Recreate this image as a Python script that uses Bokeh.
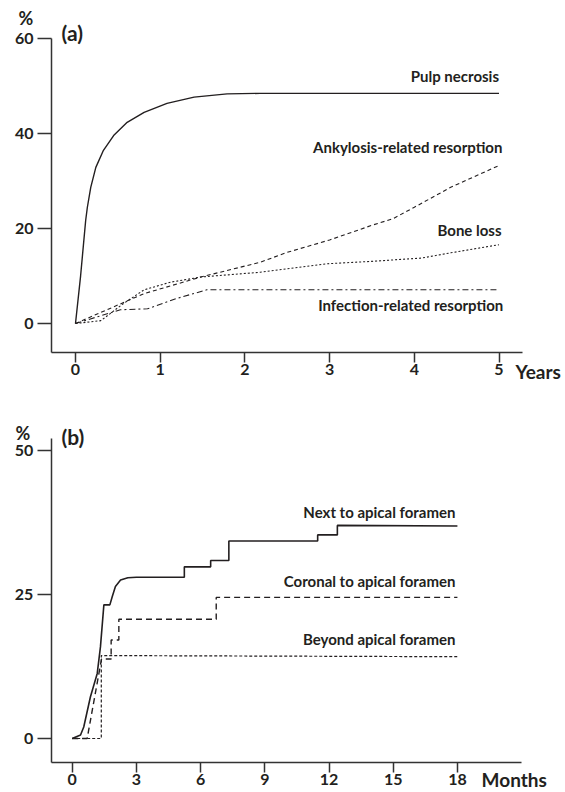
from bokeh.plotting import figure
from bokeh.layouts import column
from bokeh.models import Label, Range1d, FixedTicker
from bokeh.embed import file_html
from bokeh.resources import INLINE

# ---------------- data: panel (a) ----------------
years_ticks = [0, 1, 2, 3, 4, 5]
pct_ticks_a = [0, 20, 40, 60]

pulp_years = [0, 0.06, 0.12, 0.14, 0.18, 0.24, 0.33, 0.45, 0.61, 0.81, 1.08, 1.40, 1.79, 2.18, 5.0]
pulp_pct = [0, 10.0, 21.7, 24.5, 28.7, 32.9, 36.5, 39.6, 42.4, 44.5, 46.4, 47.7, 48.4, 48.5, 48.5]

ank_years = [0, 0.5, 0.81, 1.48, 2.18, 2.5, 3.0, 3.5, 3.75, 4.0, 4.43, 5.0]
ank_pct = [0, 3.9, 6.3, 9.8, 12.9, 15.0, 17.6, 20.7, 22.1, 24.5, 28.7, 33.3]

bone_years = [0, 0.30, 0.55, 0.81, 1.12, 1.48, 2.18, 2.98, 3.5, 4.09, 4.43, 5.0]
bone_pct = [0, 0.6, 4.0, 7.1, 8.7, 9.8, 10.8, 12.6, 13.1, 13.8, 14.9, 16.6]

inf_years = [0, 0.53, 0.85, 1.2, 1.55, 5.0]
inf_pct = [0, 2.9, 3.1, 5.3, 7.1, 7.1]

labels_a = ["Pulp necrosis", "Ankylosis-related resorption", "Bone loss", "Infection-related resorption"]

# ---------------- data: panel (b) ----------------
months_ticks = [0, 3, 6, 9, 12, 15, 18]
pct_ticks_b = [0, 25, 50]

next_months = [0, 0.39, 0.54, 0.85, 1.17, 1.32, 1.48, 1.76, 1.87, 2.02, 2.26, 2.6, 3.0,
               5.24, 5.24, 6.47, 6.47, 7.32, 7.32, 11.47, 11.47, 12.39, 12.39, 18.0]
next_pct = [0, 0.6, 2.0, 7.2, 11.3, 15.9, 23.2, 23.2, 24.6, 26.4, 27.5, 27.9, 28.0,
            28.0, 29.8, 29.8, 30.9, 30.9, 34.3, 34.3, 35.35, 35.35, 37.0, 36.9]

coronal_months = [0, 0.70, 1.37, 1.82, 1.82, 2.18, 2.18, 6.73, 6.73, 18.0]
coronal_pct = [0, 0, 13.8, 13.8, 17.1, 17.1, 20.7, 20.7, 24.5, 24.5]

beyond_months = [0, 1.36, 1.36, 18.0]
beyond_pct = [0, 0, 14.4, 14.2]

labels_b = ["Next to apical foramen", "Coronal to apical foramen", "Beyond apical foramen"]

# ---------------- styling ----------------
INK = "#231f20"
AXC = "#333333"
FONT = "Lato"


def style_axes(p, xt, yt, x_at, y_at, xb, yb):
    p.grid.visible = False
    p.outline_line_color = None
    p.xaxis.ticker = FixedTicker(ticks=xt)
    p.yaxis.ticker = FixedTicker(ticks=yt)
    p.xaxis.fixed_location = x_at
    p.yaxis.fixed_location = y_at
    p.xaxis.bounds = xb
    p.yaxis.bounds = yb
    for ax in (p.xaxis[0], p.yaxis[0]):
        ax.axis_line_color = AXC
        ax.axis_line_width = 1.5
        ax.major_tick_line_color = AXC
        ax.major_tick_line_width = 1.5
        ax.major_tick_in = 0
        ax.minor_tick_in = 0
        ax.minor_tick_out = 0
        ax.major_label_text_font = FONT
        ax.major_label_text_font_style = "bold"
        ax.major_label_text_font_size = "16px"
        ax.major_label_text_color = INK
    p.xaxis.major_tick_out = 10
    p.xaxis.major_label_standoff = 2
    p.yaxis.major_tick_out = 14
    p.yaxis.major_label_standoff = 4


def add_label(p, x, y, txt, size, align="right"):
    p.add_layout(Label(x=x, y=y, text=txt, text_font=FONT, text_font_style="bold",
                       text_font_size=size, text_color=INK, text_align=align,
                       text_baseline="middle"))


# ---------------- panel (a) ----------------
p1 = figure(width=565, height=392, x_range=Range1d(-0.8855, 5.785), y_range=Range1d(-14.54, 68.07),
            output_backend="svg", toolbar_location=None, min_border=0,
            min_border_left=0, min_border_right=0, min_border_top=0, min_border_bottom=0)
style_axes(p1, years_ticks, pct_ticks_a, -6.05, -0.2834, (-0.2834, 5.274), (-6.05, 60))

p1.line(pulp_years, pulp_pct, line_color=INK, line_width=1.4)
p1.line(ank_years, ank_pct, line_color=INK, line_width=1.1, line_dash="4 3")
p1.line(bone_years, bone_pct, line_color=INK, line_width=1.1, line_dash="2 2")
p1.line(inf_years, inf_pct, line_color=INK, line_width=1.1, line_dash="6 3 2 3")

add_label(p1, 5.0, 52.1, labels_a[0], "15px")
add_label(p1, 5.04, 37.3, labels_a[1], "15px")
add_label(p1, 5.03, 19.6, labels_a[2], "15px")
add_label(p1, 5.05, 3.8, labels_a[3], "15px")

add_label(p1, -0.587, 64.4, "%", "18px", "center")
add_label(p1, -0.165, 61.3, "(a)", "21px", "left")
add_label(p1, 5.195, -10.1, "Years", "19px", "left")

# ---------------- panel (b) ----------------
p2 = figure(width=565, height=400, x_range=Range1d(-3.350, 23.05), y_range=Range1d(-9.375, 60.07),
            output_backend="svg", toolbar_location=None, min_border=0,
            min_border_left=0, min_border_right=0, min_border_top=0, min_border_bottom=0)
style_axes(p2, months_ticks, pct_ticks_b, -4.11, -0.981, (-0.981, 21.0), (-4.11, 52.03))

p2.line(next_months, next_pct, line_color=INK, line_width=1.6)
p2.line(coronal_months, coronal_pct, line_color=INK, line_width=1.4, line_dash="6 4")
p2.line(beyond_months, beyond_pct, line_color=INK, line_width=1.2, line_dash="3 2")

add_label(p2, 17.91, 39.4, labels_b[0], "15px")
add_label(p2, 17.91, 27.4, labels_b[1], "15px")
add_label(p2, 17.91, 17.3, labels_b[2], "15px")

add_label(p2, -2.30, 53.0, "%", "18px", "center")
add_label(p2, -0.5, 52.4, "(b)", "21px", "left")
add_label(p2, 19.13, -7.2, "Months", "19px", "left")

layout = column(p1, p2, spacing=0)
open("out.html", "w").write(file_html(layout, INLINE))
